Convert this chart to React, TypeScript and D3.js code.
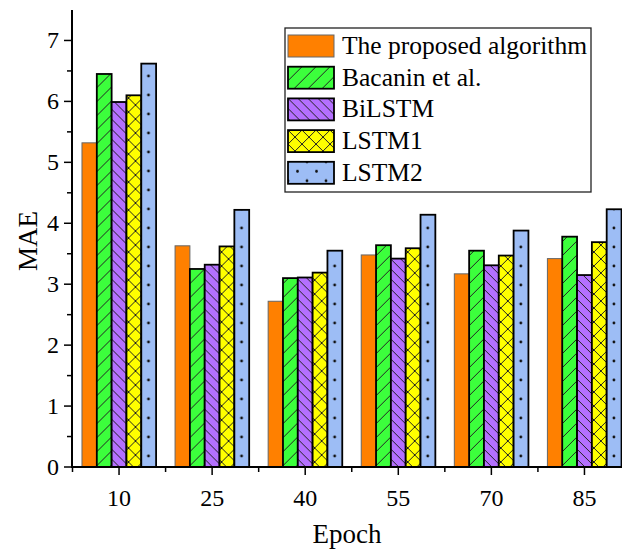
import React, { useRef, useEffect } from "react";
import { select, scaleBand, scaleLinear, range } from "d3";

const categories = ["10", "25", "40", "55", "70", "85"];
const seriesNames = ["The proposed algorithm", "Bacanin et al.", "BiLSTM", "LSTM1", "LSTM2"];
const proposed = [5.32, 3.63, 2.72, 3.48, 3.17, 3.42];
const bacanin = [6.45, 3.25, 3.1, 3.64, 3.55, 3.78];
const bilstm = [5.99, 3.32, 3.11, 3.42, 3.31, 3.15];
const lstm1 = [6.1, 3.62, 3.19, 3.59, 3.47, 3.69];
const lstm2 = [6.62, 4.22, 3.55, 4.14, 3.88, 4.23];
const yTicks = [0, 1, 2, 3, 4, 5, 6, 7];

const seriesValues = [proposed, bacanin, bilstm, lstm1, lstm2];
const colors = ["#FF8000", "#3CFF3C", "#B470FF", "#FFFF00", "#9DBDF5"];
const fills = ["#FF8000", "url(#pGreen)", "url(#pPurple)", "url(#pYellow)", "url(#pBlue)"];

const W = 622;
const H = 550;
const FONT = "'Liberation Serif', 'Times New Roman', serif";

const App = () => {
  const svgRef = useRef(null);

  useEffect(() => {
    const svg = select(svgRef.current);
    svg.selectAll("*").remove();

    const x = scaleBand().domain(categories).range([72.5, 631]).paddingInner(0).paddingOuter(0);
    const x1 = scaleBand().domain(seriesNames).range([0, x.bandwidth()]).paddingInner(0).paddingOuter(0.64);
    const y = scaleLinear().domain([0, 7.5]).range([467, 10]);

    // hatch patterns
    const defs = svg.append("defs");
    const pg = defs.append("pattern").attr("id", "pGreen").attr("patternUnits", "userSpaceOnUse")
      .attr("width", 14).attr("height", 14);
    pg.append("rect").attr("width", 14).attr("height", 14).attr("fill", colors[1]);
    pg.append("path").attr("d", "M0,14L14,0M-2,2L2,-2M12,16L16,12").attr("stroke", "#222").attr("stroke-width", 1);

    const pp = defs.append("pattern").attr("id", "pPurple").attr("patternUnits", "userSpaceOnUse")
      .attr("width", 10).attr("height", 10);
    pp.append("rect").attr("width", 10).attr("height", 10).attr("fill", colors[2]);
    pp.append("path").attr("d", "M0,0L10,10M-2,8L2,12M8,-2L12,2").attr("stroke", "#222").attr("stroke-width", 1);

    const py = defs.append("pattern").attr("id", "pYellow").attr("patternUnits", "userSpaceOnUse")
      .attr("width", 14).attr("height", 14);
    py.append("rect").attr("width", 14).attr("height", 14).attr("fill", colors[3]);
    py.append("path").attr("d", "M0,0L14,14M0,14L14,0").attr("stroke", "#222").attr("stroke-width", 1);

    const pb = defs.append("pattern").attr("id", "pBlue").attr("patternUnits", "userSpaceOnUse")
      .attr("width", 19).attr("height", 19);
    pb.append("rect").attr("width", 19).attr("height", 19).attr("fill", colors[4]);
    [[0, 0], [19, 0], [0, 19], [19, 19], [9.5, 9.5]].forEach(([cx, cy]) =>
      pb.append("circle").attr("cx", cx).attr("cy", cy).attr("r", 1.4).attr("fill", "#111"));

    // bars
    const groups = svg.append("g").selectAll("g")
      .data(categories)
      .join("g")
      .attr("transform", (d) => `translate(${x(d)},0)`);

    groups.selectAll("rect")
      .data((d, i) => seriesNames.map((s, k) => ({ s, k, v: seriesValues[k][i] })))
      .join("rect")
      .attr("x", (d) => x1(d.s))
      .attr("y", (d) => y(d.v))
      .attr("width", x1.bandwidth())
      .attr("height", (d) => y(0) - y(d.v))
      .attr("fill", (d) => fills[d.k])
      .attr("stroke", (d) => (d.k === 0 ? "#666" : "#000"))
      .attr("stroke-width", (d) => (d.k === 0 ? 1 : 1.8));

    // y axis
    const ya = svg.append("g");
    ya.append("line").attr("x1", 72).attr("x2", 72).attr("y1", 10).attr("y2", 468)
      .attr("stroke", "#000").attr("stroke-width", 2);
    ya.selectAll(".minor").data(range(0.5, 7.5, 1)).join("line")
      .attr("x1", 67).attr("x2", 72).attr("y1", (d) => y(d)).attr("y2", (d) => y(d))
      .attr("stroke", "#000").attr("stroke-width", 1.5);
    ya.selectAll(".major").data(yTicks).join("line")
      .attr("x1", 64).attr("x2", 72).attr("y1", (d) => y(d)).attr("y2", (d) => y(d))
      .attr("stroke", "#000").attr("stroke-width", 1.5);
    ya.selectAll("text").data(yTicks).join("text")
      .attr("x", 59).attr("y", (d) => y(d) + 8)
      .attr("text-anchor", "end").attr("font-family", FONT).attr("font-size", 24)
      .text((d) => d);

    // x axis
    const xa = svg.append("g");
    xa.append("line").attr("x1", 71).attr("x2", W).attr("y1", 467).attr("y2", 467)
      .attr("stroke", "#000").attr("stroke-width", 2);
    xa.selectAll(".major").data(categories).join("line")
      .attr("x1", (d) => x(d) + x.bandwidth() / 2).attr("x2", (d) => x(d) + x.bandwidth() / 2)
      .attr("y1", 467).attr("y2", 475).attr("stroke", "#000").attr("stroke-width", 1.5);
    xa.selectAll(".minor").data(categories).join("line")
      .attr("x1", (d) => x(d)).attr("x2", (d) => x(d))
      .attr("y1", 467).attr("y2", 472).attr("stroke", "#000").attr("stroke-width", 1.5);
    xa.selectAll("text").data(categories).join("text")
      .attr("x", (d) => x(d) + x.bandwidth() / 2).attr("y", 506)
      .attr("text-anchor", "middle").attr("font-family", FONT).attr("font-size", 24)
      .text((d) => d);

    // axis titles
    svg.append("text").attr("x", 347).attr("y", 543).attr("text-anchor", "middle")
      .attr("font-family", FONT).attr("font-size", 27).text("Epoch");
    svg.append("text").attr("transform", "translate(37,241) rotate(-90)").attr("text-anchor", "middle")
      .attr("font-family", FONT).attr("font-size", 27).text("MAE");

    // legend
    const lg = svg.append("g");
    lg.append("rect").attr("x", 285).attr("y", 28).attr("width", 306).attr("height", 164)
      .attr("fill", "#fff").attr("stroke", "#222").attr("stroke-width", 1.3);
    const items = lg.selectAll(".item").data(seriesNames).join("g")
      .attr("transform", (d, i) => `translate(288,${35 + i * 31.7})`);
    items.append("rect").attr("width", 46).attr("height", 22)
      .attr("fill", (d, i) => fills[i])
      .attr("stroke", (d, i) => (i === 0 ? "#666" : "#000"))
      .attr("stroke-width", (d, i) => (i === 0 ? 1 : 1.8));
    items.append("text").attr("x", 54).attr("y", 19)
      .attr("font-family", FONT).attr("font-size", 25.5).text((d) => d);
  }, []);

  return (
    <svg ref={svgRef} width={W} height={H}
      style={{ position: "absolute", left: 0, top: 0, background: "#fff" }} />
  );
};

export default App;
